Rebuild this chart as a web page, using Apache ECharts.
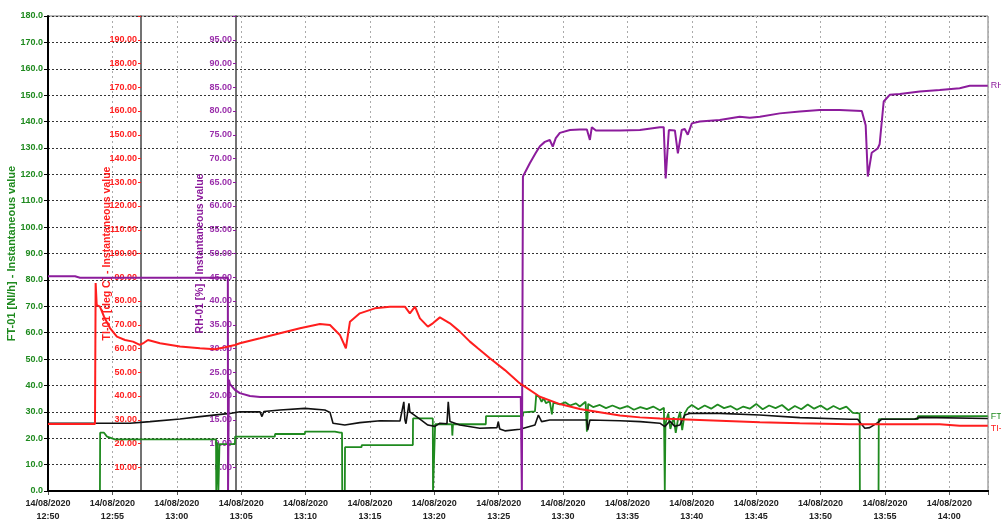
<!DOCTYPE html>
<html><head><meta charset="utf-8">
<script src="https://cdn.jsdelivr.net/npm/echarts@6/dist/echarts.min.js"></script>
<style>html,body{margin:0;padding:0;background:#fff}#c{width:1001px;height:523px}</style>
</head><body><div id="c"></div>
<script>
// ---- data (time of day on 14/08/2020, value) ----
const dateLabel = '14/08/2020';
const rhTime = ['12:50:00','12:52:06','12:52:29','13:03:58','13:03:59','13:04:03','13:04:08','13:04:31','13:04:54','13:05:41','13:06:28','13:26:43','13:26:48','13:26:53','13:27:25','13:27:53','13:28:12','13:28:35','13:28:58','13:29:12','13:29:26','13:29:45','13:30:32','13:31:18','13:31:51','13:32:05','13:32:14','13:32:33','13:34:25','13:35:58','13:37:31','13:37:49','13:37:58','13:38:13','13:38:17','13:38:41','13:38:55','13:39:13','13:39:27','13:39:41','13:40:00','13:40:37','13:42:10','13:43:43','13:44:30','13:45:17','13:46:50','13:48:23','13:49:56','13:51:29','13:53:12','13:53:30','13:53:40','13:53:58','13:54:26','13:54:35','13:54:54','13:55:22','13:56:09','13:57:42','13:59:15','14:00:48','14:01:35','14:02:59'];
const rhVal = [45.2,45.2,44.9,44.9,0,23.4,22.5,21.3,20.6,20.0,19.8,19.8,0,66.2,69.0,71.2,72.6,73.5,73.9,72.5,74.3,75.4,76.0,76.1,76.1,73.9,76.6,75.9,75.9,76.0,76.6,76.6,65.8,76.0,76.3,75.9,71.1,76.0,76.2,75.0,77.4,77.8,78.1,78.8,78.6,78.8,79.5,79.9,80.2,80.2,80.0,77.0,66.2,71.2,72.1,73.0,82.0,83.4,83.6,84.1,84.4,84.8,85.3,85.3];

const tiTime = ['12:50:00','12:53:39','12:53:42','12:53:47','12:54:02','12:54:21','12:54:49','12:55:21','12:55:59','12:56:36','12:57:08','12:57:27','12:57:46','12:58:42','13:00:15','13:01:48','13:02:58','13:03:45','13:04:31','13:04:54','13:05:41','13:06:28','13:08:01','13:09:34','13:11:07','13:11:54','13:12:40','13:13:08','13:13:27','13:14:13','13:15:23','13:16:33','13:17:43','13:18:06','13:18:30','13:18:53','13:19:30','13:19:53','13:20:26','13:21:13','13:21:59','13:22:46','13:23:23','13:24:19','13:25:29','13:26:39','13:28:12','13:29:45','13:31:18','13:32:51','13:34:25','13:35:58','13:37:31','13:39:04','13:40:37','13:42:10','13:45:17','13:48:23','13:52:16','13:59:15','14:00:48','14:02:59'];
const tiVal = [28.2,28.2,87.6,78.3,77.6,73.4,68.6,65.0,63.6,62.9,61.5,62.4,63.6,62.2,60.8,60.1,59.7,60.5,61.5,62.2,63.3,64.3,66.4,68.5,70.3,69.9,65.7,60.1,71.3,74.8,76.9,77.6,77.6,74.8,77.6,72.7,69.2,70.6,73.1,70.6,67.1,62.9,60.1,55.9,50.9,45.3,39.7,36.6,34.5,33.2,31.8,31.0,30.5,30.2,29.9,29.6,28.9,28.5,28.1,28.1,27.5,27.5];

const ftTime = ['12:50:00','12:54:02','12:54:03','12:54:21','12:54:35','12:55:12','13:03:03','13:03:04','13:03:08','13:03:09','13:03:13','13:03:14','13:03:18','13:03:19','13:04:31','13:04:32','13:07:37','13:07:38','13:09:57','13:09:58','13:12:17','13:12:40','13:12:50','13:12:51','13:13:03','13:13:04','13:14:21','13:14:22','13:18:20','13:18:21','13:19:53','13:19:54','13:20:03','13:20:04','13:21:22','13:21:24','13:21:27','13:24:00','13:24:01','13:26:53','13:26:54','13:27:49','13:27:55','13:28:10','13:28:20','13:28:30','13:28:40','13:28:58','13:29:08','13:29:15','13:29:45','13:30:10','13:30:32','13:31:00','13:31:18','13:31:45','13:31:51','13:31:57','13:32:20','13:32:51','13:33:20','13:33:50','13:34:25','13:35:00','13:35:30','13:36:00','13:36:30','13:37:00','13:37:31','13:37:50','13:37:54','13:37:55','13:37:57','13:38:10','13:38:20','13:38:35','13:38:45','13:38:55','13:39:05','13:39:15','13:39:27','13:39:41','13:40:00','13:40:30','13:41:00','13:41:30','13:42:00','13:42:30','13:43:00','13:43:30','13:44:00','13:44:30','13:45:00','13:45:30','13:46:00','13:46:30','13:47:00','13:47:30','13:48:00','13:48:30','13:49:00','13:49:30','13:50:00','13:50:30','13:51:00','13:51:30','13:52:00','13:52:30','13:53:02','13:53:03','13:54:30','13:54:31','13:57:33','13:57:34','14:02:59'];
const ftVal = [0,0,22.1,22.1,20.6,19.6,19.6,0,0,18.5,18.5,0,0,17.8,17.8,20.6,20.6,21.6,21.6,22.5,22.5,22.1,22.1,0,0,16.6,16.6,17.4,17.4,27.5,27.5,0,0,25.3,25.3,21.0,25.3,25.3,28.4,28.4,29.8,30.2,36.4,35.5,33.8,35.2,33.3,34.0,29.0,33.5,32.8,33.6,32.4,33.2,32.0,33.8,22.5,33.0,31.8,32.6,31.4,32.4,31.2,32.2,30.8,31.8,31.0,32.0,30.6,31.5,0,0,25.5,29.4,23.5,28.0,22.0,27.0,30.0,23.1,29.4,31.4,32.6,31.0,32.4,31.2,32.8,31.4,32.2,30.8,32.0,31.2,33.0,31.0,32.4,31.4,32.6,30.6,32.2,31.0,32.8,31.2,32.4,30.8,32.2,31.0,32.0,29.6,29.4,0,0,27.2,27.2,28.4,28.4];

const blkTime = ['12:50:00','12:56:22','12:57:55','13:00:15','13:01:48','13:04:08','13:04:54','13:06:28','13:06:37','13:06:46','13:08:01','13:09:57','13:11:30','13:11:54','13:12:08','13:13:03','13:14:13','13:15:47','13:17:20','13:17:38','13:17:43','13:17:48','13:18:02','13:18:06','13:18:15','13:18:53','13:19:30','13:20:03','13:20:26','13:20:59','13:21:05','13:21:13','13:21:59','13:23:32','13:24:52','13:24:58','13:25:05','13:25:29','13:26:39','13:27:49','13:28:05','13:28:20','13:28:58','13:31:51','13:31:55','13:32:05','13:34:25','13:36:00','13:37:31','13:37:54','13:38:17','13:38:41','13:39:04','13:39:27','13:39:50','13:42:10','13:45:17','13:48:23','13:52:16','13:52:53','13:53:07','13:53:26','13:53:49','13:54:26','13:54:45','13:57:19','13:57:42','14:02:59'];
const blkVal = [25.7,25.7,26.3,27.3,28.2,29.4,30.0,30.0,28.2,30.1,30.7,31.3,30.7,29.8,25.7,25.0,25.9,26.6,26.5,33.8,27.0,25.5,33.2,30.0,30.5,27.2,25.0,24.5,25.7,25.5,33.8,26.3,25.0,23.8,24.0,26.3,23.5,22.8,23.4,25.0,28.8,26.3,26.9,26.9,23.1,26.9,26.6,26.3,25.7,24.4,26.5,24.5,25.0,28.8,29.4,29.4,28.8,27.8,27.2,27.2,25.7,23.8,24.0,25.9,27.2,27.3,27.9,27.5];

const ftName = 'FT-01 [Nl/h] - Instantaneous value';
const tiName = 'TI-01 [deg C] - Instantaneous value';
const rhName = 'RH-01 [%] - Instantaneous value';

// ---- helpers ----
const startMin = 12*60+50;
function toMin(s){const p=s.split(':').map(Number);return p[0]*60+p[1]+p[2]/60-startMin;}
function pairs(t,v){return t.map((s,i)=>[toMin(s),v[i]]);}
function pad(n){return (n<10?'0':'')+n;}

const FONT = "'Liberation Sans',Arial,sans-serif";
const GREEN='#1f8a1f', RED='#ff1e1e', PURPLE='#8c1c9c', BLACK='#111111';
const TICKFS = 9;

const chart = echarts.init(document.getElementById('c'), null, {renderer:'canvas'});
chart.setOption({
  animation:false,
  backgroundColor:'#ffffff',
  grid:{left:48,right:13,top:16,bottom:32,show:true,borderColor:'#777',borderWidth:1,containLabel:false,outerBoundsMode:'none'},
  xAxis:[{
    type:'value',min:0,max:73,interval:5,
    axisLine:{lineStyle:{color:'#000',width:2}},
    axisTick:{show:true,length:4,lineStyle:{color:'#555'}},
    splitLine:{show:true,lineStyle:{color:'#aaa',type:[2,3],width:1}},
    axisLabel:{color:'#222',fontFamily:FONT,fontSize:TICKFS,fontWeight:'bold',lineHeight:13,margin:6,
      formatter:function(v){if(Math.abs(v%5)>1e-6)return '';const t=startMin+v;return dateLabel+'\n'+Math.floor(t/60)+':'+pad(t%60);}}
  },{
    type:'value',min:0,max:73,position:'bottom',z:10,
    axisLine:{lineStyle:{color:'#000',width:2}},axisTick:{show:false},axisLabel:{show:false},splitLine:{show:false}
  }],
  yAxis:[{
    type:'value',min:0,max:180,interval:10,position:'left',
    name:ftName,nameLocation:'middle',nameGap:31,nameRotate:90,nameMoveOverlap:false,
    nameTextStyle:{color:GREEN,fontFamily:FONT,fontSize:11,fontWeight:'bold'},
    axisLine:{show:true,lineStyle:{color:'#000',width:2}},
    axisTick:{show:true,length:4,lineStyle:{color:'#000'}},
    axisLabel:{color:GREEN,fontFamily:FONT,fontSize:TICKFS,fontWeight:'bold',margin:5,formatter:v=>v.toFixed(1)},
    splitLine:{show:true,lineStyle:{color:'#333',type:[2,2],width:1}}
  },{
    type:'value',min:0,max:200,interval:10,position:'left',offset:-93,
    name:tiName,nameLocation:'middle',nameGap:28,nameRotate:90,nameMoveOverlap:false,
    nameTextStyle:{color:RED,fontFamily:FONT,fontSize:10.5,fontWeight:'bold'},
    axisLine:{show:true,lineStyle:{color:'#444',width:1.5}},
    axisTick:{show:true,length:3,lineStyle:{color:RED}},
    axisLabel:{color:RED,fontFamily:FONT,fontSize:TICKFS,fontWeight:'bold',margin:4,
      formatter:v=>(v<=0||v>=200)?'':v.toFixed(2)},
    splitLine:{show:false}
  },{
    type:'value',min:0,max:100,interval:5,position:'left',offset:-188,
    name:rhName,nameLocation:'middle',nameGap:30,nameRotate:90,nameMoveOverlap:false,
    nameTextStyle:{color:PURPLE,fontFamily:FONT,fontSize:10.5,fontWeight:'bold'},
    axisLine:{show:true,lineStyle:{color:'#444',width:1.5}},
    axisTick:{show:true,length:3,lineStyle:{color:PURPLE}},
    axisLabel:{color:'#9a2fab',fontFamily:FONT,fontSize:TICKFS,fontWeight:'bold',margin:4,
      formatter:v=>(v<=0||v>=100)?'':v.toFixed(2)},
    splitLine:{show:false}
  }],
  series:[
    {name:'FT-01',type:'line',yAxisIndex:0,showSymbol:false,data:pairs(ftTime,ftVal),
     lineStyle:{color:GREEN,width:1.8},itemStyle:{color:GREEN},
     endLabel:{show:true,formatter:'{a}',color:GREEN,fontFamily:FONT,fontSize:9,distance:3}},
    {name:'TT-02',type:'line',yAxisIndex:0,showSymbol:false,data:pairs(blkTime,blkVal),
     lineStyle:{color:BLACK,width:1.6},itemStyle:{color:BLACK}},
    {name:'RH-01',type:'line',yAxisIndex:2,showSymbol:false,data:pairs(rhTime,rhVal),
     lineStyle:{color:PURPLE,width:2},itemStyle:{color:PURPLE},
     endLabel:{show:true,formatter:'{a}',color:PURPLE,fontFamily:FONT,fontSize:9,distance:3}},
    {name:'TI-01',type:'line',yAxisIndex:1,showSymbol:false,data:pairs(tiTime,tiVal),
     lineStyle:{color:RED,width:2},itemStyle:{color:RED},
     endLabel:{show:true,formatter:'{a}',color:RED,fontFamily:FONT,fontSize:9,distance:3,offset:[0,3]}}
  ]
});
</script></body></html>
